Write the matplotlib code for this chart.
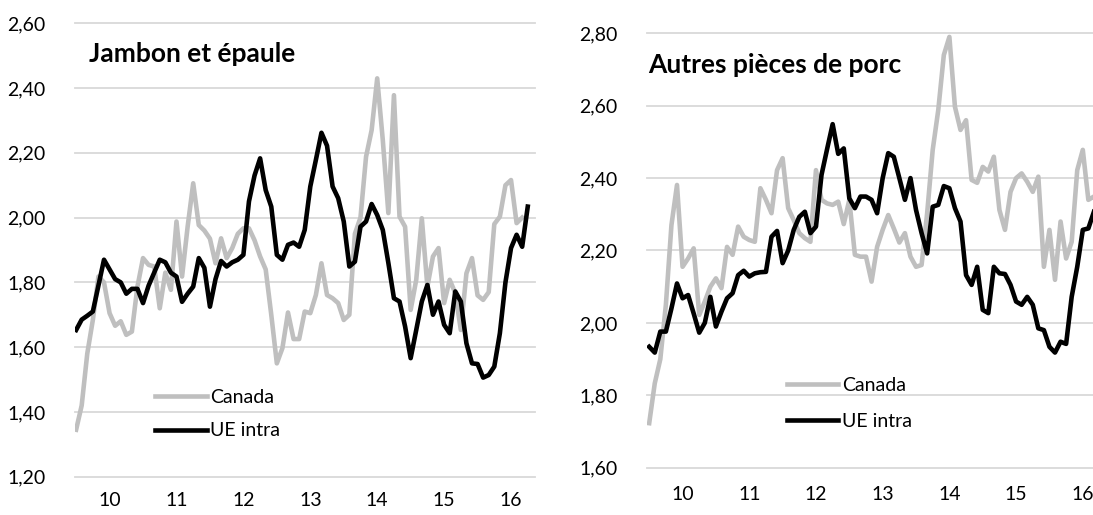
import numpy as np
import matplotlib
matplotlib.use("Agg")
import matplotlib.pyplot as plt

plt.rcParams['font.family'] = ['Lato', 'DejaVu Sans']

# --- données (prix mensuels, EUR/kg), index 0 = premier mois
annees = ['10', '11', '12', '13', '14', '15', '16']
pos_annees = [6, 18, 30, 42, 54, 66, 78]

# Jambon et épaule
jamb_canada = [1.345, 1.42, 1.58, 1.684, 1.818, 1.80, 1.705, 1.666, 1.68, 1.638,
               1.648, 1.787, 1.875, 1.854, 1.849, 1.72, 1.83, 1.777, 1.988, 1.818,
               1.972, 2.106, 1.977, 1.96, 1.935, 1.859, 1.936, 1.875, 1.906, 1.95,
               1.967, 1.967, 1.93, 1.88, 1.84, 1.70, 1.55, 1.597, 1.707, 1.625,
               1.625, 1.71, 1.705, 1.761, 1.859, 1.761, 1.751, 1.736, 1.684, 1.70,
               1.95, 2.00, 2.188, 2.27, 2.43, 2.24, 2.014, 2.378, 2.003, 1.972,
               1.715, 1.808, 1.998, 1.787, 1.88, 1.906, 1.736, 1.808, 1.767, 1.653,
               1.828, 1.875, 1.76, 1.746, 1.77, 1.98, 2.003, 2.10, 2.116, 1.983,
               2.00]
jamb_ue = [1.653, 1.685, 1.697, 1.71, 1.79, 1.87, 1.84, 1.81, 1.80, 1.765,
           1.78, 1.78, 1.736, 1.79, 1.83, 1.87, 1.862, 1.83, 1.818, 1.74,
           1.765, 1.787, 1.875, 1.845, 1.725, 1.81, 1.866, 1.849, 1.862, 1.87,
           1.885, 2.05, 2.13, 2.183, 2.085, 2.034, 1.885, 1.87, 1.916, 1.923,
           1.91, 1.962, 2.096, 2.178, 2.262, 2.222, 2.096, 2.06, 1.988, 1.849,
           1.864, 1.972, 1.988, 2.042, 2.008, 1.962, 1.86, 1.751, 1.741, 1.664,
           1.566, 1.653, 1.741, 1.792, 1.70, 1.741, 1.669, 1.643, 1.772, 1.741,
           1.612, 1.55, 1.548, 1.506, 1.514, 1.54, 1.643, 1.80, 1.906, 1.947,
           1.91, 2.034]

# Autres pièces de porc
autres_canada = [1.723, 1.833, 1.90, 2.05, 2.27, 2.381, 2.155, 2.178, 2.206, 2.022,
                 2.059, 2.10, 2.123, 2.096, 2.21, 2.188, 2.266, 2.238, 2.229, 2.224,
                 2.372, 2.34, 2.303, 2.422, 2.455, 2.317, 2.284, 2.248, 2.234, 2.224,
                 2.422, 2.34, 2.33, 2.326, 2.335, 2.273, 2.34, 2.188, 2.183, 2.183,
                 2.114, 2.21, 2.257, 2.298, 2.261, 2.222, 2.248, 2.183, 2.155, 2.16,
                 2.303, 2.478, 2.588, 2.74, 2.79, 2.597, 2.533, 2.56, 2.395, 2.387,
                 2.431, 2.418, 2.459, 2.312, 2.257, 2.362, 2.40, 2.413, 2.39, 2.362,
                 2.404, 2.155, 2.257, 2.119, 2.28, 2.178, 2.224, 2.422, 2.478, 2.34,
                 2.349, 2.20]
autres_ue = [1.934, 1.918, 1.976, 1.976, 2.04, 2.109, 2.068, 2.077, 2.026, 1.973,
             2.00, 2.072, 1.99, 2.031, 2.068, 2.082, 2.132, 2.144, 2.128, 2.137,
             2.14, 2.141, 2.238, 2.254, 2.165, 2.20, 2.257, 2.293, 2.307, 2.248,
             2.266, 2.409, 2.48, 2.549, 2.467, 2.482, 2.344, 2.317, 2.349, 2.349,
             2.34, 2.303, 2.40, 2.469, 2.459, 2.40, 2.34, 2.40, 2.312, 2.248,
             2.192, 2.321, 2.326, 2.378, 2.372, 2.317, 2.28, 2.132, 2.105, 2.155,
             2.036, 2.027, 2.155, 2.137, 2.135, 2.105, 2.059, 2.05, 2.072, 2.05,
             1.985, 1.98, 1.934, 1.918, 1.948, 1.942, 2.072, 2.155, 2.257, 2.261,
             2.307]

GRIS = '#bfbfbf'
GRILLE = '#d9d9d9'

fig = plt.figure(figsize=(10.93, 5.15), dpi=100)

def panneau(rect, canada, ue, ylim, yticks, titre, titre_pos, leg_pos, xmin,
            xpad, lspace):
    ax = fig.add_axes(rect)
    ax.plot(np.arange(len(canada)), canada, color=GRIS, lw=3.3, label='Canada',
            solid_joinstyle='round')
    ax.plot(np.arange(len(ue)), ue, color='black', lw=3.3, label='UE intra',
            solid_joinstyle='round')
    ax.set_xlim(xmin, 82.3)
    ax.set_ylim(*ylim)
    ax.set_yticks(yticks)
    ax.set_yticklabels([('%.2f' % v).replace('.', ',') for v in yticks])
    ax.set_xticks(pos_annees)
    ax.set_xticklabels(annees)
    ax.tick_params(length=0, labelsize=14, colors='#000000')
    ax.tick_params(axis='y', pad=21)
    ax.tick_params(axis='x', pad=xpad)
    ax.yaxis.grid(True, color=GRILLE, lw=1.3)
    for gl in ax.get_ygridlines():
        gl.set_clip_on(False)
    ax.set_axisbelow(True)
    for s in ax.spines.values():
        s.set_visible(False)
    ax.legend(loc='center left', bbox_to_anchor=leg_pos, frameon=False,
              fontsize=14, handlelength=2.65, handletextpad=0.2,
              labelspacing=lspace, borderpad=0, borderaxespad=0)
    fig.text(titre_pos[0], titre_pos[1], titre, fontsize=19, fontweight='bold',
             va='baseline', ha='left')
    return ax

panneau([75 / 1093, 1 - 476.7 / 515, 460 / 1093, 453.4 / 515],
        jamb_canada, jamb_ue, (1.20, 2.60), np.arange(1.20, 2.61, 0.20),
        'Jambon et épaule', (89.3 / 1093, 1 - 62 / 515), (0.174, 0.138), -0.2,
        11, 0.85)

panneau([646.7 / 1093, 1 - 467.7 / 515, 460 / 1093, 434.4 / 515],
        autres_canada, autres_ue, (1.60, 2.80), np.arange(1.60, 2.81, 0.20),
        'Autres pièces de porc', (648.3 / 1093, 1 - 73.3 / 515), (0.304, 0.148), -0.45,
        13, 1.0)

fig.savefig('out.png', dpi=100)
